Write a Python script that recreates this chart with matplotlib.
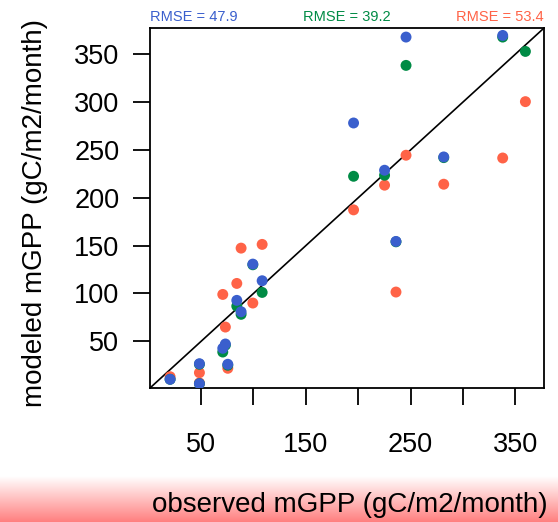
import numpy as np
import matplotlib.pyplot as plt

# observed monthly GPP (shared by all three model runs)
observed = [20.4, 48.4, 48.4, 70.7, 73.2, 75.5, 84.1, 88.2, 99.4, 108.3,
            195.6, 225.2, 236.1, 245.7, 281.7, 338.0, 359.7]

# modeled values for three runs
model_orange = [13.0, 17.2, 6.5, 99.0, 64.9, 21.8, 110.5, 147.4, 90.0, 151.3,
                187.4, 213.2, 101.5, 244.5, 214.2, 241.6, 300.5]
model_green = [10.3, 26.0, 5.7, 38.8, 46.0, 25.0, 86.8, 78.2, 130.0, 101.1,
               222.5, 223.6, 154.0, 338.4, 242.0, 368.0, 353.0]
model_blue = [10.3, 26.6, 5.7, 42.7, 47.2, 26.0, 92.8, 80.9, 130.7, 113.3,
              278.2, 228.8, 154.4, 368.0, 242.7, 369.7, np.nan]

rmse_labels = ["RMSE = 47.9", "RMSE = 39.2", "RMSE = 53.4"]

c_blue = "#3A5FCD"
c_green = "#008B45"
c_orange = "#FF6347"

plt.rcParams['font.family'] = ['Liberation Sans', 'DejaVu Sans']

fig = plt.figure(figsize=(5.58, 5.22), dpi=100)

# pink fade strip behind the x label
bg = fig.add_axes([0, 0, 1, 0.088], zorder=0)
grad = np.linspace(0, 1, 100)
rgb = np.ones((100, 1, 3))
rgb[:, 0, 1] = 1 - 0.5 * grad
rgb[:, 0, 2] = 1 - 0.5 * grad
bg.imshow(rgb, aspect='auto', extent=[0, 1, 0, 1], origin='upper')
bg.set_axis_off()

ax = fig.add_axes([0.2688, 0.2567, 0.7062, 0.6897], zorder=1)
lims = (1.2, 377.5)
ax.set_xlim(lims)
ax.set_ylim(lims)

ax.scatter(observed, model_orange, s=62, color=c_orange, edgecolors='none', zorder=3)
ax.scatter(observed, model_green, s=62, color=c_green, edgecolors='none', zorder=3)
ax.scatter(observed, model_blue, s=62, color=c_blue, edgecolors='none', zorder=3)

# 1:1 line
ax.plot(lims, lims, color='black', linewidth=1.2, zorder=2)

for sp in ax.spines.values():
    sp.set_linewidth(1.3)

ax.set_xticks(np.arange(50, 351, 50))
ax.set_xticklabels(['50', '', '150', '', '250', '', '350'])
ax.set_yticks(np.arange(50, 351, 50))
ax.tick_params(length=12, width=1.3, labelsize=19.5, pad=20)
ax.tick_params(axis='y', pad=10)

fig.text(0.063, 0.592, 'modeled mGPP (gC/m2/month)', rotation=90,
         ha='center', va='center', fontsize=20)
fig.text(0.982, 0.032, 'observed mGPP (gC/m2/month)', ha='right',
         va='center', fontsize=20, zorder=5)

ax.text(0.0, 1.03, rmse_labels[0], transform=ax.transAxes, ha='left',
        va='center', fontsize=10.5, color=c_blue)
ax.text(0.5, 1.03, rmse_labels[1], transform=ax.transAxes, ha='center',
        va='center', fontsize=10.5, color=c_green)
ax.text(1.0, 1.03, rmse_labels[2], transform=ax.transAxes, ha='right',
        va='center', fontsize=10.5, color=c_orange)

fig.savefig('out.png', dpi=100)
